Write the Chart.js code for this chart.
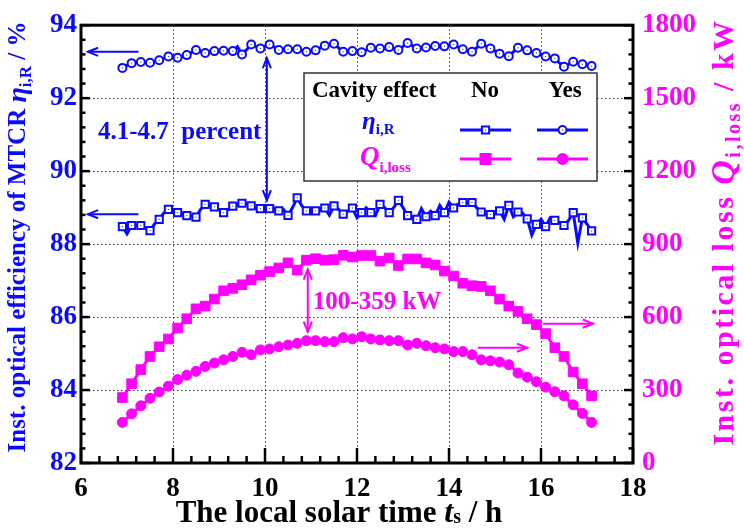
<!DOCTYPE html>
<html>
<head>
<meta charset="utf-8">
<script src="https://cdn.jsdelivr.net/npm/chart.js@4.4.0/dist/chart.umd.min.js"></script>
<style>
  html, body { margin: 0; padding: 0; background: #ffffff; }
  #wrap { width: 744px; height: 528px; position: relative; }
</style>
</head>
<body>
<div id="wrap"><canvas id="c" width="744" height="528"></canvas></div>
<script>
// Local solar time of each marked sample (h)
const hours = [6.9, 7.1, 7.3, 7.5, 7.7, 7.9, 8.1, 8.3, 8.5, 8.7, 8.9, 9.1, 9.3, 9.5, 9.7, 9.9,
  10.1, 10.3, 10.5, 10.7, 10.9, 11.1, 11.3, 11.5, 11.7, 11.9, 12.1, 12.3, 12.5, 12.7, 12.9,
  13.1, 13.3, 13.5, 13.7, 13.9, 14.1, 14.3, 14.5, 14.7, 14.9, 15.1, 15.3, 15.5, 15.7, 15.9,
  16.1, 16.3, 16.5, 16.7, 16.9, 17.1];

// Instantaneous optical efficiency (%) without cavity effect: marked samples and the samples between them
const etaNo = [88.48, 88.51, 88.51, 88.37, 88.68, 88.95, 88.86, 88.78, 88.74, 89.09,
  89.02, 88.86, 89.04, 89.12, 89.05, 88.97, 88.97, 88.91, 88.79, 89.27,
  88.91, 88.91, 88.99, 89.05, 88.82, 88.99, 88.86, 88.86, 89.09, 88.86,
  89.20, 88.78, 88.68, 88.75, 88.78, 88.86, 88.99, 89.14, 89.14, 88.88,
  88.81, 88.91, 89.06, 88.88, 88.69, 88.54, 88.48, 88.65, 88.51, 88.86,
  88.72, 88.36];
const etaNoBetween = [88.28, 88.51, 88.44, 88.55, 88.85, 88.90, 88.82, 88.76, 88.95, 89.05,
  88.95, 88.95, 89.08, 89.10, 89.00, 88.97, 88.95, 88.95, 89.00, 89.05,
  88.90, 88.95, 88.79, 88.95, 88.90, 88.72, 89.00, 88.78, 89.00, 89.00,
  89.00, 88.75, 88.97, 88.90, 89.06, 89.15, 89.10, 89.15, 89.00, 88.85,
  88.85, 88.68, 88.75, 88.85, 88.25, 88.68, 88.72, 88.60, 88.65, 88.03,
  88.55];

// Instantaneous optical efficiency (%) with cavity effect
const etaYes = [92.83, 92.96, 92.99, 92.97, 93.04, 93.14, 93.11, 93.18, 93.32, 93.24,
  93.29, 93.30, 93.29, 93.20, 93.47, 93.36, 93.47, 93.32, 93.34, 93.34,
  93.27, 93.31, 93.44, 93.49, 93.27, 93.29, 93.26, 93.38, 93.36, 93.40,
  93.32, 93.51, 93.36, 93.39, 93.43, 93.42, 93.47, 93.34, 93.27, 93.49,
  93.36, 93.22, 93.15, 93.38, 93.31, 93.24, 93.14, 93.09, 92.86, 93.00,
  92.93, 92.88];
const etaYesBetween = [92.90, 92.98, 92.98, 93.00, 93.09, 93.12, 93.15, 93.25, 93.28, 93.27,
  93.30, 93.30, 93.41, 93.33, 93.42, 93.42, 93.40, 93.33, 93.34, 93.30,
  93.29, 93.38, 93.47, 93.38, 93.28, 93.28, 93.32, 93.37, 93.38, 93.36,
  93.42, 93.44, 93.38, 93.41, 93.42, 93.45, 93.40, 93.30, 93.38, 93.43,
  93.29, 93.18, 93.27, 93.35, 93.28, 93.19, 93.12, 92.97, 92.93, 92.96,
  92.90];

// Instantaneous optical loss (kW)
const lossNo = [269, 326, 384, 438, 478, 510, 555, 593, 634, 645,
  674, 708, 718, 733, 753, 772, 787, 802, 823, 793,
  834, 840, 834, 836, 854, 847, 853, 853, 830, 843,
  812, 839, 839, 823, 814, 789, 769, 739, 729, 726,
  708, 674, 645, 623, 593, 569, 532, 474, 438, 374,
  326, 276];
const lossYes = [167, 202, 235, 266, 292, 316, 343, 361, 377, 397,
  411, 424, 438, 455, 445, 465, 469, 478, 485, 492,
  503, 503, 499, 499, 515, 510, 519, 510, 506, 503,
  503, 485, 492, 482, 474, 469, 458, 458, 445, 424,
  420, 415, 404, 370, 353, 334, 312, 293, 276, 239,
  204, 167];

// Axis tick labels
const timeTicks = [6, 8, 10, 12, 14, 16, 18];
const etaTicks = [82, 84, 86, 88, 90, 92, 94];
const lossTicks = [0, 300, 600, 900, 1200, 1500, 1800];

const BLUE = '#0a0aff';
const MAGENTA = '#ff00ff';
const SERIF = "'Liberation Serif', 'Times New Roman', Times, serif";
const fnt = (size, italic) => (italic ? 'italic ' : '') + 'bold ' + size + 'px ' + SERIF;
const TICK_FONT = { family: SERIF, weight: 'bold', size: 27 };

// Line through marked samples plus the unmarked samples between them
function withBetween(marks, between) {
  const out = [];
  marks.forEach((v, i) => {
    out.push({ x: hours[i], y: v });
    if (i < between.length) out.push({ x: (hours[i] + hours[i + 1]) / 2, y: between[i] });
  });
  return out;
}
const pairs = vals => vals.map((v, i) => ({ x: hours[i], y: v }));

// Text made of runs (italic symbols, subscripts); optional extra letter spacing
function richText(ctx, runs, x, y, align, spacing) {
  ctx.letterSpacing = (spacing || 0) + 'px';
  let w = 0;
  runs.forEach(r => { ctx.font = fnt(r.size, r.italic); r.w = ctx.measureText(r.t).width; w += r.w; });
  let cx = align === 'center' ? x - w / 2 : (align === 'right' ? x - w : x);
  ctx.textAlign = 'left';
  ctx.textBaseline = 'middle';
  runs.forEach(r => { ctx.font = fnt(r.size, r.italic); ctx.fillText(r.t, cx, y + (r.dy || 0)); cx += r.w; });
  ctx.letterSpacing = '0px';
}

function arrow(ctx, x1, y1, x2, y2, both) {
  const head = (xa, ya, xb, yb) => {
    const ang = Math.atan2(yb - ya, xb - xa), L = 11, s = 0.38;
    ctx.beginPath();
    ctx.moveTo(xb - L * Math.cos(ang - s), yb - L * Math.sin(ang - s));
    ctx.lineTo(xb, yb);
    ctx.lineTo(xb - L * Math.cos(ang + s), yb - L * Math.sin(ang + s));
    ctx.stroke();
  };
  ctx.beginPath(); ctx.moveTo(x1, y1); ctx.lineTo(x2, y2); ctx.stroke();
  head(x1, y1, x2, y2);
  if (both) head(x2, y2, x1, y1);
}

function marker(ctx, style, x, y, color, filled) {
  ctx.save();
  ctx.strokeStyle = color; ctx.fillStyle = filled ? color : '#ffffff'; ctx.lineWidth = 2;
  ctx.beginPath();
  if (style === 'rect') {
    const h = filled ? 5 : 3.6;
    ctx.rect(x - h, y - h, 2 * h, 2 * h);
  } else {
    ctx.arc(x, y, filled ? 5 : 4, 0, Math.PI * 2);
  }
  ctx.fill(); ctx.stroke();
  if (!filled) { ctx.fillStyle = color; ctx.fillRect(x - 0.5, y - 0.5, 1, 1); }
  ctx.restore();
}

const framePlugin = {
  id: 'frame',
  beforeDatasetsDraw(chart) {
    const { ctx, chartArea: a, scales } = chart;
    const x = scales.x, y = scales.yL;
    ctx.save();
    ctx.strokeStyle = '#333333'; ctx.lineWidth = 1; ctx.setLineDash([1.5, 2.5]);
    timeTicks.slice(1, -1).forEach(v => {
      const px = Math.round(x.getPixelForValue(v)) + 0.5;
      ctx.beginPath(); ctx.moveTo(px, a.top); ctx.lineTo(px, a.bottom); ctx.stroke();
    });
    etaTicks.slice(1, -1).forEach(v => {
      const py = Math.round(y.getPixelForValue(v)) + 0.5;
      ctx.beginPath(); ctx.moveTo(a.left, py); ctx.lineTo(a.right, py); ctx.stroke();
    });
    ctx.restore();
  },
  afterDatasetsDraw(chart) {
    const { ctx, chartArea: a, scales } = chart;
    const x = scales.x, yL = scales.yL, yR = scales.yR;
    ctx.save();

    // small centre dots in the hollow blue markers
    [0, 1].forEach(di => {
      chart.getDatasetMeta(di).data.forEach((p, i) => {
        if (i % 2 === 0) { ctx.fillStyle = BLUE; ctx.fillRect(p.x - 0.5, p.y - 0.5, 1, 1); }
      });
    });

    // axis frame
    ctx.strokeStyle = '#000000'; ctx.lineWidth = 3; ctx.setLineDash([]);
    ctx.strokeRect(a.left, a.top, a.right - a.left, a.bottom - a.top);

    // inward tick marks
    ctx.lineWidth = 2.5;
    for (let k = 0; k <= 30; k++) {
      const v = 6 + k * 0.4, px = x.getPixelForValue(v);
      const major = k % 5 === 0, len = major ? 15 : 7;
      ctx.beginPath(); ctx.moveTo(px, a.bottom); ctx.lineTo(px, a.bottom - len); ctx.stroke();
    }
    for (let k = 0; k <= 30; k++) {
      const v = 82 + k * 0.4, py = yL.getPixelForValue(v);
      const major = k % 5 === 0, len = major ? 9 : 4.5;
      ctx.beginPath(); ctx.moveTo(a.left, py); ctx.lineTo(a.left + len, py); ctx.stroke();
      ctx.beginPath(); ctx.moveTo(a.right, py); ctx.lineTo(a.right - len, py); ctx.stroke();
    }

    // guide arrows
    ctx.lineWidth = 2;
    ctx.strokeStyle = BLUE;
    arrow(ctx, x.getPixelForValue(7.25), yL.getPixelForValue(93.27), x.getPixelForValue(6.15), yL.getPixelForValue(93.27));
    arrow(ctx, x.getPixelForValue(7.25), yL.getPixelForValue(88.82), x.getPixelForValue(6.15), yL.getPixelForValue(88.82));
    arrow(ctx, x.getPixelForValue(10.04), yL.getPixelForValue(93.1), x.getPixelForValue(10.04), yL.getPixelForValue(89.2), true);
    ctx.strokeStyle = MAGENTA;
    arrow(ctx, x.getPixelForValue(16.04), yR.getPixelForValue(573), x.getPixelForValue(17.13), yR.getPixelForValue(573));
    arrow(ctx, x.getPixelForValue(14.63), yR.getPixelForValue(474), x.getPixelForValue(15.7), yR.getPixelForValue(474));
    arrow(ctx, x.getPixelForValue(10.93), yR.getPixelForValue(796), x.getPixelForValue(10.93), yR.getPixelForValue(539), true);

    // range annotations
    ctx.fillStyle = BLUE;
    richText(ctx, [{ t: '4.1-4.7  percent', size: 25 }], x.getPixelForValue(6.37), yL.getPixelForValue(91.05), 'left');
    ctx.fillStyle = MAGENTA;
    richText(ctx, [{ t: '100-359 kW', size: 25 }], x.getPixelForValue(11.04), yR.getPixelForValue(660), 'left');

    // legend table
    const bx = 304, by = 73, bw = 293, bh = 108;
    ctx.fillStyle = '#ffffff'; ctx.fillRect(bx, by, bw, bh);
    ctx.strokeStyle = '#333333'; ctx.lineWidth = 1.5; ctx.strokeRect(bx, by, bw, bh);
    ctx.fillStyle = '#000000';
    richText(ctx, [{ t: 'Cavity effect', size: 23 }], 312, 91, 'left');
    richText(ctx, [{ t: 'No', size: 23 }], 485, 91, 'center');
    richText(ctx, [{ t: 'Yes', size: 23 }], 565, 91, 'center');
    ctx.fillStyle = BLUE;
    richText(ctx, [{ t: '\u03b7', size: 25, italic: true }, { t: 'i,R', size: 15, dy: 7 }], 362, 123, 'left');
    ctx.fillStyle = MAGENTA;
    richText(ctx, [{ t: 'Q', size: 27, italic: true }, { t: 'i,loss', size: 15, dy: 10 }], 360, 158, 'left');
    const rows = [[130, BLUE, false], [159, MAGENTA, true]];
    rows.forEach(([ry, col, filled]) => {
      ctx.strokeStyle = col; ctx.lineWidth = 3;
      ctx.beginPath(); ctx.moveTo(460, ry); ctx.lineTo(511, ry); ctx.stroke();
      ctx.beginPath(); ctx.moveTo(537, ry); ctx.lineTo(588, ry); ctx.stroke();
      marker(ctx, 'rect', 485.5, ry, col, filled);
      marker(ctx, 'circle', 562.5, ry, col, filled);
    });

    // axis titles
    ctx.fillStyle = BLUE;
    ctx.save();
    ctx.translate(19, 237); ctx.rotate(-Math.PI / 2);
    richText(ctx, [{ t: 'Inst. optical efficiency of MTCR ', size: 25 }, { t: '\u03b7', size: 28, italic: true },
      { t: 'i,R', size: 17, dy: 8 }, { t: ' / %', size: 25 }], 0, 0, 'center');
    ctx.restore();
    ctx.fillStyle = MAGENTA;
    ctx.save();
    ctx.translate(725, 232); ctx.rotate(-Math.PI / 2);
    richText(ctx, [{ t: 'Inst. optical loss ', size: 30 }, { t: 'Q', size: 34, italic: true },
      { t: 'i,loss', size: 20, dy: 10 }, { t: ' / kW', size: 30 }], 0, 0, 'center', 2.5);
    ctx.restore();
    ctx.fillStyle = '#000000';
    richText(ctx, [{ t: 'The local solar time ', size: 31 }, { t: 't', size: 32, italic: true },
      { t: 's', size: 20, dy: 4 }, { t: ' / h', size: 31 }], 339, 514, 'center');

    ctx.restore();
  }
};

new Chart(document.getElementById('c'), {
  type: 'line',
  data: {
    datasets: [
      {
        label: 'eta no cavity', yAxisID: 'yL', data: withBetween(etaNo, etaNoBetween),
        borderColor: BLUE, borderWidth: 3, tension: 0,
        pointStyle: 'rect', pointRadius: c => (c.dataIndex % 2 === 0 ? 5.1 : 0),
        pointBackgroundColor: '#ffffff', pointBorderColor: BLUE, pointBorderWidth: 2
      },
      {
        label: 'eta cavity', yAxisID: 'yL', data: withBetween(etaYes, etaYesBetween),
        borderColor: BLUE, borderWidth: 3, tension: 0,
        pointStyle: 'circle', pointRadius: c => (c.dataIndex % 2 === 0 ? 4 : 0),
        pointBackgroundColor: '#ffffff', pointBorderColor: BLUE, pointBorderWidth: 2
      },
      {
        label: 'loss no cavity', yAxisID: 'yR', data: pairs(lossNo),
        borderColor: MAGENTA, borderWidth: 3, tension: 0,
        pointStyle: 'rect', pointRadius: 6.8,
        pointBackgroundColor: MAGENTA, pointBorderColor: MAGENTA, pointBorderWidth: 1
      },
      {
        label: 'loss cavity', yAxisID: 'yR', data: pairs(lossYes),
        borderColor: MAGENTA, borderWidth: 3, tension: 0,
        pointStyle: 'circle', pointRadius: 5,
        pointBackgroundColor: MAGENTA, pointBorderColor: MAGENTA, pointBorderWidth: 1
      }
    ]
  },
  options: {
    responsive: false,
    animation: false,
    devicePixelRatio: 1,
    layout: { padding: { top: 19, left: 0, right: 0, bottom: 0 } },
    plugins: { legend: { display: false }, tooltip: { enabled: false } },
    events: [],
    scales: {
      x: {
        type: 'linear', min: 6, max: 18,
        afterBuildTicks: s => { s.ticks = timeTicks.map(v => ({ value: v })); },
        afterFit: s => { s.height = 65; },
        grid: { display: false, drawTicks: false }, border: { display: false },
        ticks: { color: '#000000', padding: 10, font: TICK_FONT, callback: v => String(v) }
      },
      yL: {
        type: 'linear', position: 'left', min: 82, max: 94,
        afterBuildTicks: s => { s.ticks = etaTicks.map(v => ({ value: v })); },
        afterFit: s => { s.width = 81; },
        grid: { display: false, drawTicks: false }, border: { display: false },
        ticks: { color: BLUE, padding: 4, font: TICK_FONT, callback: v => String(v) }
      },
      yR: {
        type: 'linear', position: 'right', min: 0, max: 1800,
        afterBuildTicks: s => { s.ticks = lossTicks.map(v => ({ value: v })); },
        afterFit: s => { s.width = 111; },
        grid: { display: false, drawTicks: false }, border: { display: false },
        ticks: { color: MAGENTA, padding: 9, font: TICK_FONT, callback: v => String(v) }
      }
    }
  },
  plugins: [framePlugin]
});
</script>
</body>
</html>
